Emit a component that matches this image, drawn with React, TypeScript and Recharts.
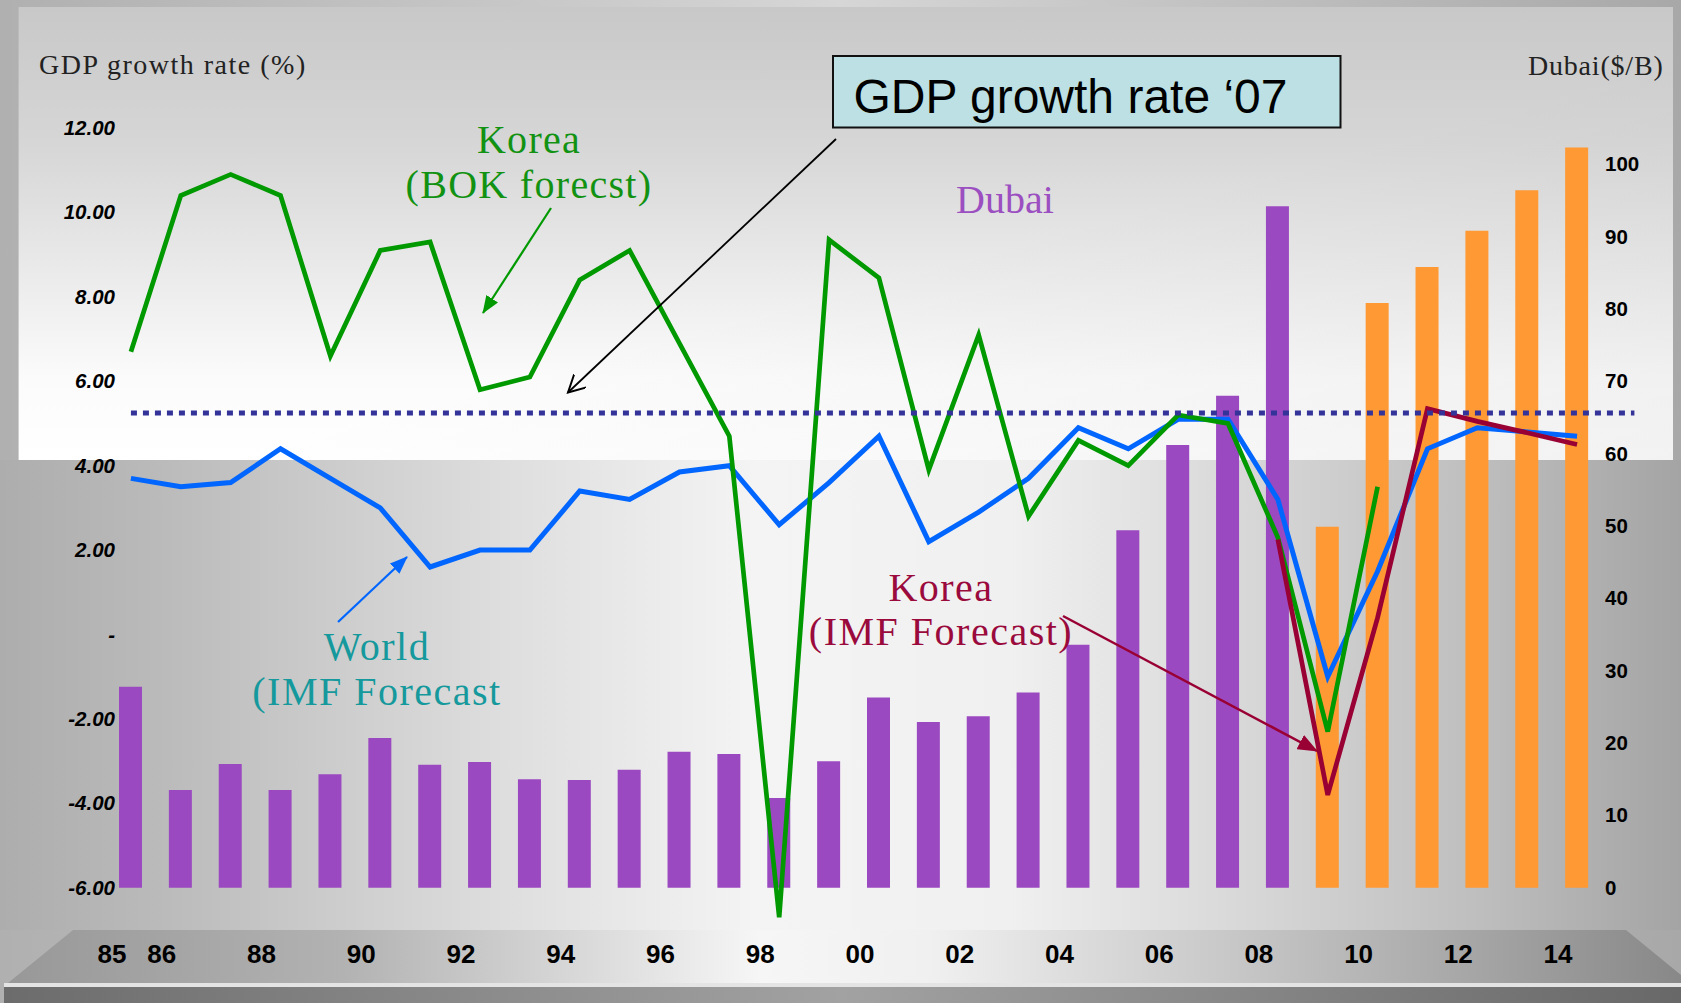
import React from 'react';
import { ComposedChart, Bar, Line, XAxis, YAxis, Cell, ReferenceLine } from 'recharts';

// ---- data ----
const years = ['85','86','87','88','89','90','91','92','93','94','95','96','97','98','99','00','01','02','03','04','05','06','07','08','09','10','11','12','13','14'];
const dubaiPrice = [27.8, 13.5, 17.1, 13.5, 15.7, 20.7, 17.0, 17.4, 15.0, 14.9, 16.3, 18.8, 18.5, 12.4, 17.5, 26.3, 22.9, 23.7, 27.0, 33.6, 49.4, 61.2, 68.0, 94.2, 49.9, 80.8, 85.8, 90.8, 96.4, 102.3];
const forecastYears = ['09','10','11','12','13','14'];
const koreaBok = [6.7, 10.4, 10.9, 10.4, 6.6, 9.1, 9.3, 5.8, 6.1, 8.4, 9.1, 6.9, 4.7, -6.7, 9.35, 8.45, 3.9, 7.1, 2.8, 4.6, 4.0, 5.2, 5.0, 2.3, -2.3, 3.5, null, null, null, null];
const worldImf = [3.7, 3.5, 3.6, 4.4, 3.7, 3.0, 1.6, 2.0, 2.0, 3.4, 3.2, 3.85, 4.0, 2.6, 3.6, 4.7, 2.2, 2.9, 3.7, 4.9, 4.4, 5.1, 5.1, 3.2, -1.0, 1.5, 4.4, 4.9, 4.8, 4.7];
const koreaImf = [null, null, null, null, null, null, null, null, null, null, null, null, null, null, null, null, null, null, null, null, null, null, null, 2.25, -3.8, 0.4, 5.35, 5.05, 4.78, 4.5];
const growth07 = 5.25;
const leftTicks = [-6, -4, -2, 0, 2, 4, 6, 8, 10, 12];
const rightTicks = [0, 10, 20, 30, 40, 50, 60, 70, 80, 90, 100];
const xTickLabels = ['85','86','88','90','92','94','96','98','00','02','04','06','08','10','12','14'];

const data = years.map((year, i) => ({
  year,
  dubai: dubaiPrice[i],
  koreaBok: koreaBok[i],
  world: worldImf[i],
  koreaImf: koreaImf[i],
}));

const SANS = "'Liberation Sans', Arial, sans-serif";
const SERIF = "'Liberation Serif', 'Times New Roman', serif";

const LeftTick = (props: any) => {
  const { x, y, payload } = props;
  const v = payload.value as number;
  const label = v === 0 ? '-' : v.toFixed(2);
  return (
    <text x={x + 9} y={y + 7} textAnchor="end" fontFamily={SANS} fontWeight="bold" fontStyle="italic" fontSize={20.5} fill="#000">
      {label}
    </text>
  );
};

const RightTick = (props: any) => {
  const { x, y, payload } = props;
  return (
    <text x={x + 3} y={y + 7} textAnchor="start" fontFamily={SANS} fontWeight="bold" fontSize={20.5} fill="#000">
      {payload.value}
    </text>
  );
};

const BottomTick = (props: any) => {
  const { x, y, payload } = props;
  if (!xTickLabels.includes(payload.value)) return <g />;
  return (
    <text x={x - 19} y={y + 33} textAnchor="middle" fontFamily={SANS} fontWeight="bold" fontSize={26} fill="#000">
      {payload.value}
    </text>
  );
};

const DottedShape = (props: any) => {
  const { x1, y1, x2, y2 } = props;
  const step = (x2 - x1) / (years.length - 1);
  return (
    <line x1={x1} y1={y1} x2={x2 + step * 1.15} y2={y2} stroke="#333399" strokeWidth={5} strokeDasharray="6 6" />
  );
};

const Background = () => (
  <svg width={1681} height={1003} style={{ position: 'absolute', left: 0, top: 0 }}>
    <defs>
      <linearGradient id="outer" x1="0" y1="0" x2="1" y2="0">
        <stop offset="0" stopColor="#b0b0b0" />
        <stop offset="0.5" stopColor="#d6d6d6" />
        <stop offset="1" stopColor="#a8a8a8" />
      </linearGradient>
      <linearGradient id="panel" x1="0" y1="0" x2="0" y2="1">
        <stop offset="0" stopColor="#c8c8c8" />
        <stop offset="0.3" stopColor="#d6d6d6" />
        <stop offset="0.65" stopColor="#efefef" />
        <stop offset="0.82" stopColor="#fbfbfb" />
        <stop offset="1" stopColor="#ffffff" />
      </linearGradient>
      <linearGradient id="panelRight" x1="0" y1="0" x2="1" y2="1">
        <stop offset="0.55" stopColor="#000" stopOpacity="0" />
        <stop offset="1" stopColor="#000" stopOpacity="0.05" />
      </linearGradient>
      <linearGradient id="lower" x1="0" y1="0" x2="1" y2="0">
        <stop offset="0" stopColor="#adadad" />
        <stop offset="0.1" stopColor="#bbbbbb" />
        <stop offset="0.3" stopColor="#dedede" />
        <stop offset="0.45" stopColor="#f4f4f4" />
        <stop offset="0.6" stopColor="#f0f0f0" />
        <stop offset="0.75" stopColor="#d6d6d6" />
        <stop offset="0.88" stopColor="#bebebe" />
        <stop offset="1" stopColor="#a4a4a4" />
      </linearGradient>
      <linearGradient id="platform" x1="0" y1="0" x2="1" y2="0">
        <stop offset="0" stopColor="#989898" />
        <stop offset="0.2" stopColor="#b2b2b2" />
        <stop offset="0.45" stopColor="#f6f6f6" />
        <stop offset="0.55" stopColor="#f0f0f0" />
        <stop offset="0.8" stopColor="#b8b8b8" />
        <stop offset="1" stopColor="#888888" />
      </linearGradient>
      <linearGradient id="strip" x1="0" y1="0" x2="1" y2="0">
        <stop offset="0" stopColor="#6c6c6c" />
        <stop offset="0.5" stopColor="#a2a2a2" />
        <stop offset="1" stopColor="#686868" />
      </linearGradient>
    </defs>
    <rect x={0} y={0} width={1681} height={1003} fill="url(#outer)" />
    <rect x={0} y={460} width={1681} height={470} fill="url(#lower)" />
    <rect x={18.6} y={7} width={1654.4} height={453} fill="url(#panel)" />
    <rect x={18.6} y={7} width={1654.4} height={453} fill="url(#panelRight)" />
    <polygon points="73,930 1626,930 1681,975 1681,983 8,983" fill="url(#platform)" />
    <rect x={4} y={983} width={1677} height={4} fill="#e4e4e4" />
    <rect x={4} y={987} width={1677} height={16} fill="url(#strip)" />
  </svg>
);

const Annotations = () => (
  <svg width={1681} height={1003} style={{ position: 'absolute', left: 0, top: 0, pointerEvents: 'none' }}>
    <defs>
      <marker id="headGreen" markerUnits="userSpaceOnUse" markerWidth={18} markerHeight={14} refX={17} refY={7} orient="auto">
        <path d="M0,0 L18,7 L0,14 z" fill="#009900" />
      </marker>
      <marker id="headBlue" markerUnits="userSpaceOnUse" markerWidth={18} markerHeight={14} refX={17} refY={7} orient="auto">
        <path d="M0,0 L18,7 L0,14 z" fill="#0066ff" />
      </marker>
      <marker id="headRed" markerUnits="userSpaceOnUse" markerWidth={20} markerHeight={16} refX={19} refY={8} orient="auto">
        <path d="M0,0 L20,8 L0,16 z" fill="#990033" />
      </marker>
      <marker id="headBlack" markerUnits="userSpaceOnUse" markerWidth={20} markerHeight={20} refX={17} refY={9} orient="auto">
        <path d="M0,0 L17,9 L0,18" fill="none" stroke="#000" strokeWidth={2} />
      </marker>
    </defs>

    <text x={39} y={74} fontFamily={SERIF} fontSize={28} letterSpacing={1.5} fill="#222">GDP growth rate (%)</text>
    <text x={1528} y={75} fontFamily={SERIF} fontSize={28} letterSpacing={0.8} fill="#222">Dubai($/B)</text>

    <text x={529} y={153} textAnchor="middle" fontFamily={SERIF} fontSize={40} letterSpacing={1.3} fill="#129212">Korea</text>
    <text x={529} y={198} textAnchor="middle" fontFamily={SERIF} fontSize={40} letterSpacing={1.3} fill="#129212">(BOK forecst)</text>

    <text x={1005} y={213} textAnchor="middle" fontFamily={SERIF} fontSize={40} fill="#9b4fc0">Dubai</text>

    <text x={941} y={601} textAnchor="middle" fontFamily={SERIF} fontSize={40} letterSpacing={1.5} fill="#9a0a3c">Korea</text>
    <text x={941} y={645} textAnchor="middle" fontFamily={SERIF} fontSize={40} letterSpacing={1.5} fill="#9a0a3c">(IMF Forecast)</text>

    <text x={377} y={660} textAnchor="middle" fontFamily={SERIF} fontSize={40} letterSpacing={1.5} fill="#15999c">World</text>
    <text x={377} y={705} textAnchor="middle" fontFamily={SERIF} fontSize={40} letterSpacing={1.5} fill="#15999c">(IMF Forecast</text>

    <rect x={833} y={56} width={507.5} height={71.5} fill="#bce0e3" stroke="#111" strokeWidth={2} />
    <text x={853.5} y={113} fontFamily={SANS} fontSize={48} fill="#000">GDP growth rate ‘07</text>

    <line x1={836} y1={139} x2={568} y2={392.5} stroke="#000" strokeWidth={1.8} markerEnd="url(#headBlack)" />
    <line x1={551} y1={208} x2={483} y2={313} stroke="#009900" strokeWidth={2.2} markerEnd="url(#headGreen)" />
    <line x1={338} y1={622} x2={407} y2={557} stroke="#0066ff" strokeWidth={2.2} markerEnd="url(#headBlue)" />
    <line x1={1063} y1={616} x2={1317} y2={751} stroke="#990033" strokeWidth={2.5} markerEnd="url(#headRed)" />
  </svg>
);

export default function App() {
  return (
    <div style={{ position: 'absolute', left: 0, top: 0, width: 1681, height: 1003, overflow: 'hidden' }}>
      <Background />
      <div style={{ position: 'absolute', left: 0, top: 0 }}>
        <ComposedChart width={1681} height={1003} data={data} margin={{ top: 128, right: 9, bottom: 23, left: 6 }}>
          <XAxis dataKey="year" type="category" interval={0} tickLine={false} axisLine={false} tickSize={0} tickMargin={0} height={50} tick={<BottomTick />} />
          <YAxis yAxisId="left" orientation="left" type="number" domain={[-7, 12]} ticks={leftTicks} width={100} tickLine={false} axisLine={false} tickSize={0} tickMargin={0} tick={<LeftTick />} />
          <YAxis yAxisId="right" orientation="right" type="number" domain={[-35 / 6, 105]} ticks={rightTicks} width={70} tickLine={false} axisLine={false} tickSize={0} tickMargin={0} tick={<RightTick />} />
          <Bar dataKey="dubai" yAxisId="right" barSize={23} isAnimationActive={false}>
            {data.map((d) => (
              <Cell key={d.year} fill={forecastYears.includes(d.year) ? '#ff9933' : '#9b49c0'} />
            ))}
          </Bar>
          <Line dataKey="world" yAxisId="left" stroke="#0066ff" strokeWidth={5} dot={false} activeDot={false} isAnimationActive={false} />
          <Line dataKey="koreaBok" yAxisId="left" stroke="#009900" strokeWidth={4.7} dot={false} activeDot={false} isAnimationActive={false} />
          <Line dataKey="koreaImf" yAxisId="left" stroke="#990033" strokeWidth={4.7} dot={false} activeDot={false} isAnimationActive={false} />
          <ReferenceLine
            yAxisId="left"
            segment={[{ x: '85', y: growth07 }, { x: '14', y: growth07 }]}
            shape={<DottedShape />}
          />
        </ComposedChart>
      </div>
      <Annotations />
    </div>
  );
}
